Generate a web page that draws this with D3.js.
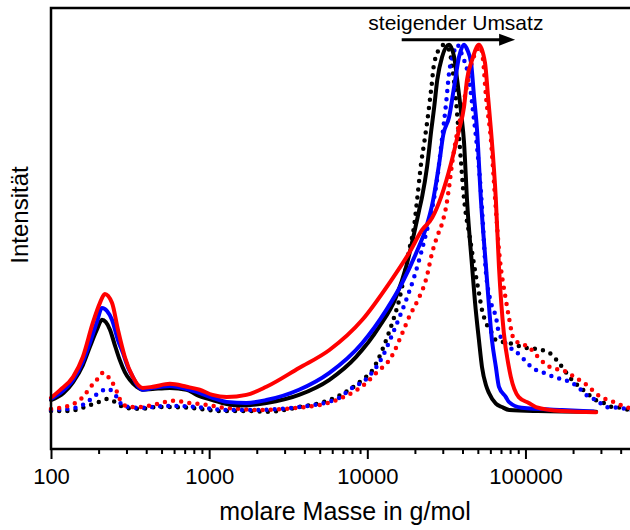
<!DOCTYPE html>
<html>
<head>
<meta charset="utf-8">
<script src="https://cdn.jsdelivr.net/npm/d3@7"></script>
<style>
    body { margin: 0; background: #fff; }
    text { font-family: "Liberation Sans", Arial, sans-serif; fill: #000; }
</style>
</head>
<body>
<div id="chart"></div>
<script>
// molar mass (g/mol) and normalised intensity

// solid black
const solidBlackM = [100, 120, 138, 159, 176, 195, 210, 222, 236, 253, 272, 293, 315, 349, 380, 440, 564, 721, 834, 1050, 1290, 1600, 2300, 3700, 5760, 8500, 11900, 15200, 17600, 19800, 21300, 22200, 23900, 25400, 26500, 27700, 29700, 32900, 35400, 37000, 39200, 40900, 42700, 46000, 48000, 50800, 53100, 56300, 58800, 65000, 71000, 79000, 120000, 280000];
const solidBlackI = [0.035, 0.054, 0.084, 0.130, 0.179, 0.226, 0.253, 0.247, 0.226, 0.185, 0.144, 0.111, 0.090, 0.071, 0.063, 0.065, 0.068, 0.063, 0.049, 0.035, 0.024, 0.020, 0.027, 0.049, 0.090, 0.152, 0.234, 0.315, 0.397, 0.489, 0.552, 0.587, 0.670, 0.769, 0.832, 0.905, 0.967, 1.0, 0.967, 0.905, 0.815, 0.734, 0.579, 0.397, 0.30, 0.198, 0.125, 0.075, 0.054, 0.025, 0.016, 0.008, 0.005, 0.003];

// solid blue
const solidBlueM = [100, 119, 138, 159, 176, 195, 210, 226, 243, 265, 285, 306, 329, 354, 380, 440, 564, 721, 834, 1050, 1290, 1720, 2300, 3700, 5760, 9300, 13200, 16600, 20400, 23600, 25700, 28500, 30200, 32900, 35400, 38000, 40900, 43000, 45300, 47300, 49400, 52300, 56300, 61400, 65000, 68000, 75200, 78500, 94700, 170000, 270000];
const solidBlueI = [0.038, 0.060, 0.090, 0.139, 0.190, 0.247, 0.285, 0.277, 0.253, 0.198, 0.163, 0.125, 0.098, 0.073, 0.063, 0.068, 0.073, 0.065, 0.057, 0.041, 0.030, 0.027, 0.035, 0.063, 0.109, 0.190, 0.280, 0.353, 0.435, 0.505, 0.565, 0.679, 0.755, 0.804, 0.886, 0.967, 1.0, 0.985, 0.951, 0.859, 0.769, 0.579, 0.397, 0.198, 0.125, 0.071, 0.043, 0.030, 0.014, 0.008, 0.004];

// solid red
const solidRedM = [100, 114, 138, 159, 184, 204, 219, 243, 265, 293, 329, 380, 440, 564, 721, 871, 1050, 1290, 1720, 2300, 3700, 5760, 9300, 13800, 18400, 22200, 25700, 29300, 33900, 38000, 40900, 42700, 46000, 50800, 55500, 58000, 60500, 65000, 68000, 73000, 78500, 80800, 90700, 105000, 116500, 170000, 280000];
const solidRedI = [0.041, 0.062, 0.098, 0.152, 0.245, 0.299, 0.323, 0.299, 0.226, 0.152, 0.098, 0.068, 0.071, 0.079, 0.071, 0.063, 0.049, 0.043, 0.049, 0.071, 0.122, 0.171, 0.253, 0.353, 0.435, 0.497, 0.530, 0.587, 0.679, 0.769, 0.832, 0.905, 0.959, 1.0, 0.951, 0.859, 0.769, 0.579, 0.397, 0.217, 0.125, 0.098, 0.043, 0.027, 0.016, 0.005, 0.002];

// dotted black
const dotBlackM = [100, 126, 159, 184, 210, 229, 261, 293, 364, 467, 589, 753, 1220, 1880, 2300, 3700, 5760, 7700, 9300, 10800, 11900, 13400, 14800, 15900, 17100, 18400, 19800, 20700, 21900, 22900, 23900, 25400, 26500, 29300, 30500, 33000, 34400, 36000, 37500, 39000, 40500, 42000, 44000, 48700, 50800, 53100, 56300, 61400, 65000, 78500, 100700, 127000, 145000, 162600, 180000, 196500, 224000, 251700, 278700, 313000, 352000, 400000, 450000, 500000];
const dotBlackI = [0.005, 0.005, 0.014, 0.024, 0.033, 0.038, 0.027, 0.014, 0.011, 0.016, 0.016, 0.014, 0.005, 0.005, 0.003, 0.016, 0.035, 0.063, 0.090, 0.117, 0.152, 0.207, 0.261, 0.307, 0.370, 0.443, 0.510, 0.583, 0.679, 0.734, 0.790, 0.883, 0.951, 0.995, 1.0, 0.985, 0.94, 0.87, 0.78, 0.69, 0.60, 0.54, 0.489, 0.370, 0.326, 0.280, 0.245, 0.217, 0.198, 0.190, 0.177, 0.171, 0.160, 0.136, 0.111, 0.090, 0.068, 0.049, 0.035, 0.027, 0.016, 0.014, 0.008, 0.005];

// dotted blue
const dotBlueM = [100, 142, 159, 180, 204, 229, 261, 285, 364, 540, 834, 1290, 1880, 3700, 6650, 7700, 10000, 12450, 14200, 15900, 17900, 19800, 21900, 23600, 25400, 27600, 29500, 31500, 32900, 34900, 37000, 39700, 44000, 47300, 49400, 52300, 56300, 60500, 65000, 68000, 80000, 93400, 102200, 116500, 130800, 151200, 175000, 196500, 224000, 251700, 282800, 322200, 400000, 450000, 500000];
const dotBlueI = [0.008, 0.014, 0.022, 0.038, 0.057, 0.065, 0.043, 0.019, 0.014, 0.019, 0.016, 0.008, 0.008, 0.016, 0.041, 0.063, 0.095, 0.152, 0.207, 0.258, 0.315, 0.370, 0.435, 0.489, 0.545, 0.633, 0.735, 0.842, 0.924, 0.973, 1.0, 0.973, 0.905, 0.796, 0.723, 0.60, 0.380, 0.300, 0.261, 0.217, 0.178, 0.155, 0.136, 0.117, 0.109, 0.098, 0.090, 0.082, 0.063, 0.043, 0.035, 0.016, 0.014, 0.008, 0.006];

// dotted red
const dotRedM = [100, 114, 142, 159, 176, 195, 213, 236, 253, 281, 315, 364, 467, 589, 753, 964, 1220, 1560, 1880, 3700, 6650, 9860, 11400, 14200, 16400, 18400, 20500, 23600, 25700, 27600, 29700, 31500, 32900, 34400, 37000, 39700, 42700, 46000, 49400, 51600, 53900, 56300, 60500, 64100, 68000, 75200, 78500, 84400, 90700, 105000, 116500, 130800, 147000, 167400, 182700, 208200, 234000, 263000, 299500, 336700, 372700, 430800, 500000];
const dotRedI = [0.011, 0.014, 0.027, 0.043, 0.068, 0.090, 0.109, 0.092, 0.071, 0.027, 0.016, 0.016, 0.024, 0.033, 0.027, 0.022, 0.014, 0.011, 0.008, 0.014, 0.038, 0.082, 0.109, 0.152, 0.210, 0.261, 0.300, 0.365, 0.435, 0.478, 0.515, 0.560, 0.614, 0.679, 0.761, 0.82, 0.89, 0.954, 0.986, 0.995, 0.96, 0.859, 0.742, 0.59, 0.443, 0.307, 0.261, 0.200, 0.190, 0.179, 0.158, 0.136, 0.122, 0.117, 0.111, 0.095, 0.082, 0.063, 0.043, 0.035, 0.027, 0.016, 0.011];

const majorTicks = [100, 1000, 10000, 100000];
const minorTicks = [200, 300, 400, 500, 600, 700, 800, 900,
    2000, 3000, 4000, 5000, 6000, 7000, 8000, 9000,
    20000, 30000, 40000, 50000, 60000, 70000, 80000, 90000,
    200000, 300000, 400000];

const xLabel = "molare Masse in g/mol";
const yLabel = "Intensität";
const noteText = "steigender Umsatz";
const arrowFrom = 16500, arrowTo = 86000;

// drawing order: dotted first, solid on top
const series = [
    { m: dotBlackM, v: dotBlackI, color: "#000000", dotted: true },
    { m: dotBlueM, v: dotBlueI, color: "#0000ff", dotted: true },
    { m: dotRedM, v: dotRedI, color: "#ff0000", dotted: true },
    { m: solidBlackM, v: solidBlackI, color: "#000000", dotted: false },
    { m: solidBlueM, v: solidBlueI, color: "#0000ff", dotted: false },
    { m: solidRedM, v: solidRedI, color: "#ff0000", dotted: false }
];

const margin = { top: 8, left: 51 };
const width = 585, height = 441;

const svg = d3.select("#chart").append("svg")
    .attr("width", 630)
    .attr("height", 530);

const g = svg.append("g")
    .attr("transform", "translate(" + margin.left + "," + margin.top + ")");

// scales
const x = d3.scaleLog().domain([100, 500000]).range([0, width]);
const y = d3.scaleLinear().domain([-0.098, 1.1]).range([height, 0]);

// curves
const line = d3.line()
    .x(d => x(d[0]))
    .y(d => y(d[1]))
    .curve(d3.curveMonotoneX);

series.forEach(s => {
    let pts = s.m.map((m, i) => [m, s.v[i]]);
    g.append("path")
        .datum(pts)
        .attr("fill", "none")
        .attr("stroke", s.color)
        .attr("stroke-width", s.dotted ? 4.5 : 4)
        .attr("stroke-linecap", "round")
        .attr("stroke-linejoin", "round")
        .attr("stroke-dasharray", s.dotted ? "0 8.2" : null)
        .attr("d", line);
});

// axes
const xAxisMajor = d3.axisBottom(x)
    .tickValues(majorTicks)
    .tickSize(10)
    .tickPadding(9)
    .tickFormat(d3.format("d"));

const xAxisMinor = d3.axisBottom(x)
    .tickValues(minorTicks)
    .tickSize(5)
    .tickFormat("");

let gMinor = g.append("g")
    .attr("transform", "translate(0," + height + ")")
    .call(xAxisMinor);

let gMajor = g.append("g")
    .attr("transform", "translate(0," + height + ")")
    .call(xAxisMajor);

[gMinor, gMajor].forEach(a => {
    a.select(".domain").remove();
    a.selectAll(".tick line").attr("stroke", "#000").attr("stroke-width", 2);
});
gMajor.selectAll(".tick text")
    .attr("font-size", 22)
    .attr("font-family", "Liberation Sans, Arial, sans-serif");

// frame
g.append("rect")
    .attr("x", 0)
    .attr("y", 0)
    .attr("width", width)
    .attr("height", height)
    .attr("fill", "none")
    .attr("stroke", "#000")
    .attr("stroke-width", 2.5);

// axis labels
svg.append("text")
    .attr("x", 345)
    .attr("y", 520)
    .attr("text-anchor", "middle")
    .attr("font-size", 25)
    .text(xLabel);

svg.append("text")
    .attr("transform", "translate(28," + (margin.top + 207) + ") rotate(-90)")
    .attr("text-anchor", "middle")
    .attr("font-size", 24)
    .text(yLabel);

// annotation
g.append("text")
    .attr("x", x(36300))
    .attr("y", y(1.041))
    .attr("text-anchor", "middle")
    .attr("font-size", 21)
    .text(noteText);

g.append("line")
    .attr("x1", x(arrowFrom))
    .attr("x2", x(arrowTo) - 12)
    .attr("y1", y(1.014))
    .attr("y2", y(1.014))
    .attr("stroke", "#000")
    .attr("stroke-width", 3);

let tipX = x(arrowTo), tipY = y(1.014);
g.append("path")
    .attr("d", "M" + tipX + "," + tipY + "L" + (tipX - 16) + "," + (tipY - 6) + "L" + (tipX - 16) + "," + (tipY + 6) + "Z")
    .attr("fill", "#000");
</script>
</body>
</html>
